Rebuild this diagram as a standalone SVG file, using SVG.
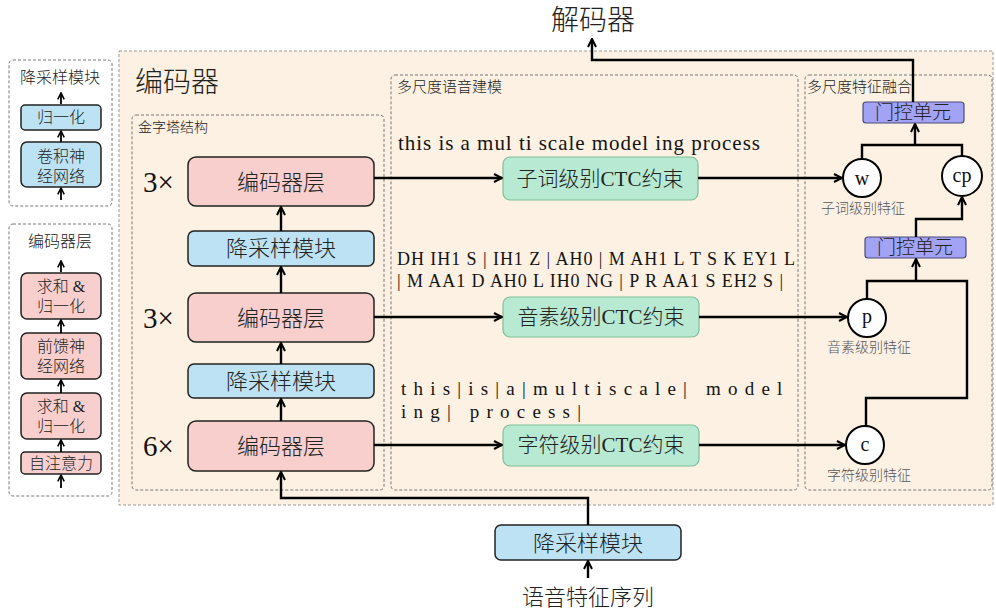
<svg xmlns="http://www.w3.org/2000/svg" width="996" height="612" viewBox="0 0 996 612">
  <defs>
    <marker id="arr" viewBox="0 0 10 10" refX="9" refY="5" markerWidth="10" markerHeight="10" markerUnits="userSpaceOnUse" orient="auto">
      <path d="M1,1 L9,5 L1,9" fill="none" stroke="#000" stroke-width="2"/>
    </marker>
    <marker id="arrs" viewBox="0 0 10 10" refX="9" refY="5" markerWidth="8" markerHeight="8" markerUnits="userSpaceOnUse" orient="auto">
      <path d="M1,1 L9,5 L1,9" fill="none" stroke="#000" stroke-width="2"/>
    </marker>
  </defs>
  <style>
    .panel { fill: none; stroke: #777; stroke-width: 1; stroke-dasharray: 3 2; }
    .enc { fill: #f8cfcc; stroke: #222; stroke-width: 1.5; }
    .ds { fill: #bde2f4; stroke: #222; stroke-width: 1.5; }
    .ctc { fill: #b7e9d3; stroke: #7fbf97; stroke-width: 1.2; }
    .gate { fill: #a3a3f6; stroke: #4b4b7a; stroke-width: 1.2; }
    .node { fill: #fff; stroke: #000; stroke-width: 2; }
    .cn { font-family: "Liberation Serif", "Noto Sans CJK SC", serif; font-weight: 300; fill: #222; }
    .lat { font-family: "Liberation Serif", serif; fill: #111; }
    .seq { opacity: 0.99; }
    .sub { font-family: "Liberation Serif", "Noto Sans CJK SC", serif; font-weight: 300; fill: #555; font-size: 14px; }
    .wire { fill: none; stroke: #000; stroke-width: 2.4; }
    .wire2 { fill: none; stroke: #000; stroke-width: 1.8; }
  </style>

  <!-- encoder background -->
  <rect x="119" y="51" width="874" height="454" fill="#fdf1e3" stroke="#999" stroke-width="1" stroke-dasharray="3 2"/>
  <text class="cn" x="135" y="92" font-size="28">编码器</text>

  <!-- legend: downsampling module -->
  <g id="legend-downsample">
    <rect class="panel" x="9" y="60" width="103" height="146" rx="4"/>
    <text class="cn" x="60" y="83" font-size="16" text-anchor="middle">降采样模块</text>
    <rect class="ds" x="21" y="105" width="80" height="25" rx="4"/>
    <text class="cn" x="61" y="123" font-size="16" text-anchor="middle">归一化</text>
    <rect class="ds" x="21" y="142" width="80" height="45" rx="6"/>
    <text class="cn" x="61" y="162" font-size="16" text-anchor="middle">卷积神</text>
    <text class="cn" x="61" y="182" font-size="16" text-anchor="middle">经网络</text>
  </g>

  <!-- legend: encoder layer -->
  <g id="legend-encoder-layer">
    <rect class="panel" x="9" y="224" width="103" height="272" rx="4"/>
    <text class="cn" x="60" y="247" font-size="16" text-anchor="middle">编码器层</text>
    <rect class="enc" x="21" y="273" width="80" height="46" rx="6"/>
    <text class="cn" x="61" y="292" font-size="16" text-anchor="middle">求和 &amp;</text>
    <text class="cn" x="61" y="312" font-size="16" text-anchor="middle">归一化</text>
    <rect class="enc" x="21" y="333" width="80" height="46" rx="6"/>
    <text class="cn" x="61" y="352" font-size="16" text-anchor="middle">前馈神</text>
    <text class="cn" x="61" y="372" font-size="16" text-anchor="middle">经网络</text>
    <rect class="enc" x="21" y="393" width="80" height="46" rx="6"/>
    <text class="cn" x="61" y="412" font-size="16" text-anchor="middle">求和 &amp;</text>
    <text class="cn" x="61" y="432" font-size="16" text-anchor="middle">归一化</text>
    <rect class="enc" x="21" y="452" width="80" height="22" rx="4"/>
    <text class="cn" x="61" y="469" font-size="16" text-anchor="middle">自注意力</text>
  </g>

  <!-- section frames -->
  <g id="pyramid-frame">
    <rect class="panel" x="132" y="115" width="252" height="375" rx="4"/>
    <text class="cn" x="138" y="132" font-size="14">金字塔结构</text>
  </g>
  <g id="multiscale-frame">
    <rect class="panel" x="391" y="75" width="407" height="415" rx="4"/>
    <text class="cn" x="397" y="92" font-size="15">多尺度语音建模</text>
  </g>
  <g id="fusion-frame">
    <rect class="panel" x="805" y="75" width="187" height="415" rx="4"/>
    <text class="cn" x="807" y="92" font-size="15">多尺度特征融合</text>
  </g>

  <!-- pyramid encoder stack -->
  <g id="enc3-top">
    <rect class="enc" x="188" y="157" width="186" height="49" rx="8"/>
    <text class="cn" x="281" y="190" font-size="22" text-anchor="middle">编码器层</text>
    <text class="lat" x="143" y="192" font-size="29">3×</text>
  </g>
  <g id="ds-upper">
    <rect class="ds" x="188" y="231" width="186" height="35" rx="6"/>
    <text class="cn" x="281" y="256" font-size="22" text-anchor="middle">降采样模块</text>
  </g>
  <g id="enc3-mid">
    <rect class="enc" x="188" y="293" width="186" height="49" rx="8"/>
    <text class="cn" x="281" y="326" font-size="22" text-anchor="middle">编码器层</text>
    <text class="lat" x="143" y="328" font-size="29">3×</text>
  </g>
  <g id="ds-lower">
    <rect class="ds" x="188" y="364" width="186" height="34" rx="6"/>
    <text class="cn" x="281" y="389" font-size="22" text-anchor="middle">降采样模块</text>
  </g>
  <g id="enc6-bottom">
    <rect class="enc" x="188" y="421" width="186" height="50" rx="8"/>
    <text class="cn" x="281" y="454" font-size="22" text-anchor="middle">编码器层</text>
    <text class="lat" x="143" y="456" font-size="29">6×</text>
  </g>

  <!-- input -->
  <g id="ds-input">
    <rect class="ds" x="495" y="525" width="186" height="35" rx="6"/>
    <text class="cn" x="588" y="551" font-size="22" text-anchor="middle">降采样模块</text>
  </g>
  <text class="cn" x="588" y="605" font-size="22" text-anchor="middle">语音特征序列</text>
  <text class="cn" x="593" y="30" font-size="28" text-anchor="middle">解码器</text>

  <!-- transcriptions -->
  <g class="seq">
    <text class="lat" x="398" y="150" font-size="21" textLength="362" lengthAdjust="spacing">this is a mul ti scale model ing process</text>
    <text class="lat" x="397" y="265" font-size="18" textLength="398" lengthAdjust="spacing">DH IH1 S | IH1 Z | AH0 | M AH1 L T S K EY1 L</text>
    <text class="lat" x="397" y="287" font-size="18" textLength="386" lengthAdjust="spacing">| M AA1 D AH0 L IH0 NG | P R AA1 S EH2 S |</text>
    <text class="lat" x="401" y="395" font-size="19" letter-spacing="7.2">this|is|a|multiscale| model</text>
    <text class="lat" x="401" y="418" font-size="19" letter-spacing="7.2">ing| process|</text>
  </g>

  <!-- CTC constraints -->
  <g id="ctc-word">
    <rect class="ctc" x="503" y="157" width="195" height="43" rx="7"/>
    <text class="cn" x="600" y="186" font-size="21" text-anchor="middle">子词级别CTC约束</text>
  </g>
  <g id="ctc-phone">
    <rect class="ctc" x="503" y="297" width="196" height="40" rx="7"/>
    <text class="cn" x="601" y="324" font-size="21" text-anchor="middle">音素级别CTC约束</text>
  </g>
  <g id="ctc-char">
    <rect class="ctc" x="503" y="425" width="196" height="41" rx="7"/>
    <text class="cn" x="601" y="452" font-size="21" text-anchor="middle">字符级别CTC约束</text>
  </g>

  <!-- feature nodes -->
  <g id="feat-w">
    <circle class="node" cx="862" cy="178" r="19"/>
    <text class="lat" x="862" y="185" font-size="20" text-anchor="middle">w</text>
    <text class="sub" x="863" y="213" text-anchor="middle">子词级别特征</text>
  </g>
  <g id="feat-cp">
    <circle class="node" cx="962" cy="176" r="20"/>
    <text class="lat" x="962" y="182" font-size="20" text-anchor="middle">cp</text>
  </g>
  <g id="feat-p">
    <circle class="node" cx="867" cy="318" r="19"/>
    <text class="lat" x="867" y="323" font-size="20" text-anchor="middle">p</text>
    <text class="sub" x="869" y="352" text-anchor="middle">音素级别特征</text>
  </g>
  <g id="feat-c">
    <circle class="node" cx="865" cy="445" r="19"/>
    <text class="lat" x="865" y="451" font-size="20" text-anchor="middle">c</text>
    <text class="sub" x="869" y="480" text-anchor="middle">字符级别特征</text>
  </g>

  <!-- gate units -->
  <g id="gate-top">
    <rect class="gate" x="863" y="102" width="101" height="21" rx="3"/>
    <text class="cn" x="913" y="119" font-size="19" text-anchor="middle">门控单元</text>
  </g>
  <g id="gate-low">
    <rect class="gate" x="865" y="237" width="101" height="21" rx="3"/>
    <text class="cn" x="915" y="254" font-size="19" text-anchor="middle">门控单元</text>
  </g>

  <!-- connectors -->
  <g id="connectors">
    <!-- legend arrows -->
    <line class="wire2" x1="61" y1="104" x2="61" y2="93" marker-end="url(#arrs)"/>
    <line class="wire2" x1="61" y1="142" x2="61" y2="131" marker-end="url(#arrs)"/>
    <line class="wire2" x1="61" y1="200" x2="61" y2="188" marker-end="url(#arrs)"/>
    <line class="wire2" x1="61" y1="272" x2="61" y2="261" marker-end="url(#arrs)"/>
    <line class="wire2" x1="61" y1="333" x2="61" y2="320" marker-end="url(#arrs)"/>
    <line class="wire2" x1="61" y1="393" x2="61" y2="380" marker-end="url(#arrs)"/>
    <line class="wire2" x1="61" y1="452" x2="61" y2="440" marker-end="url(#arrs)"/>
    <line class="wire2" x1="61" y1="488" x2="61" y2="475" marker-end="url(#arrs)"/>

    <!-- pyramid stack -->
    <path class="wire" d="M588,525 V498 H281 V472" marker-end="url(#arr)"/>
    <line class="wire" x1="281" y1="421" x2="281" y2="399" marker-end="url(#arr)"/>
    <line class="wire" x1="281" y1="364" x2="281" y2="343" marker-end="url(#arr)"/>
    <line class="wire" x1="281" y1="293" x2="281" y2="267" marker-end="url(#arr)"/>
    <line class="wire" x1="281" y1="231" x2="281" y2="207" marker-end="url(#arr)"/>
    <line class="wire" x1="588" y1="578" x2="588" y2="561" marker-end="url(#arr)"/>

    <!-- encoder to CTC -->
    <line class="wire" x1="374" y1="178" x2="502" y2="178" marker-end="url(#arr)"/>
    <line class="wire" x1="374" y1="317" x2="502" y2="317" marker-end="url(#arr)"/>
    <line class="wire" x1="374" y1="445" x2="502" y2="445" marker-end="url(#arr)"/>

    <!-- CTC to features -->
    <line class="wire" x1="698" y1="178" x2="842" y2="178" marker-end="url(#arr)"/>
    <line class="wire" x1="699" y1="317" x2="847" y2="317" marker-end="url(#arr)"/>
    <line class="wire" x1="699" y1="445" x2="845" y2="445" marker-end="url(#arr)"/>

    <!-- fusion -->
    <path class="wire" d="M862,159 V145 H962 V156"/>
    <line class="wire" x1="915" y1="145" x2="915" y2="124" marker-end="url(#arr)"/>
    <path class="wire" d="M916,237 V219 H962 V197" marker-end="url(#arr)"/>
    <path class="wire" d="M867,299 V281 H967 V398 H866 V426"/>
    <line class="wire" x1="916" y1="281" x2="916" y2="259" marker-end="url(#arr)"/>
    <path class="wire" d="M913,102 V60 H592 V39" marker-end="url(#arr)"/>
  </g>
</svg>
